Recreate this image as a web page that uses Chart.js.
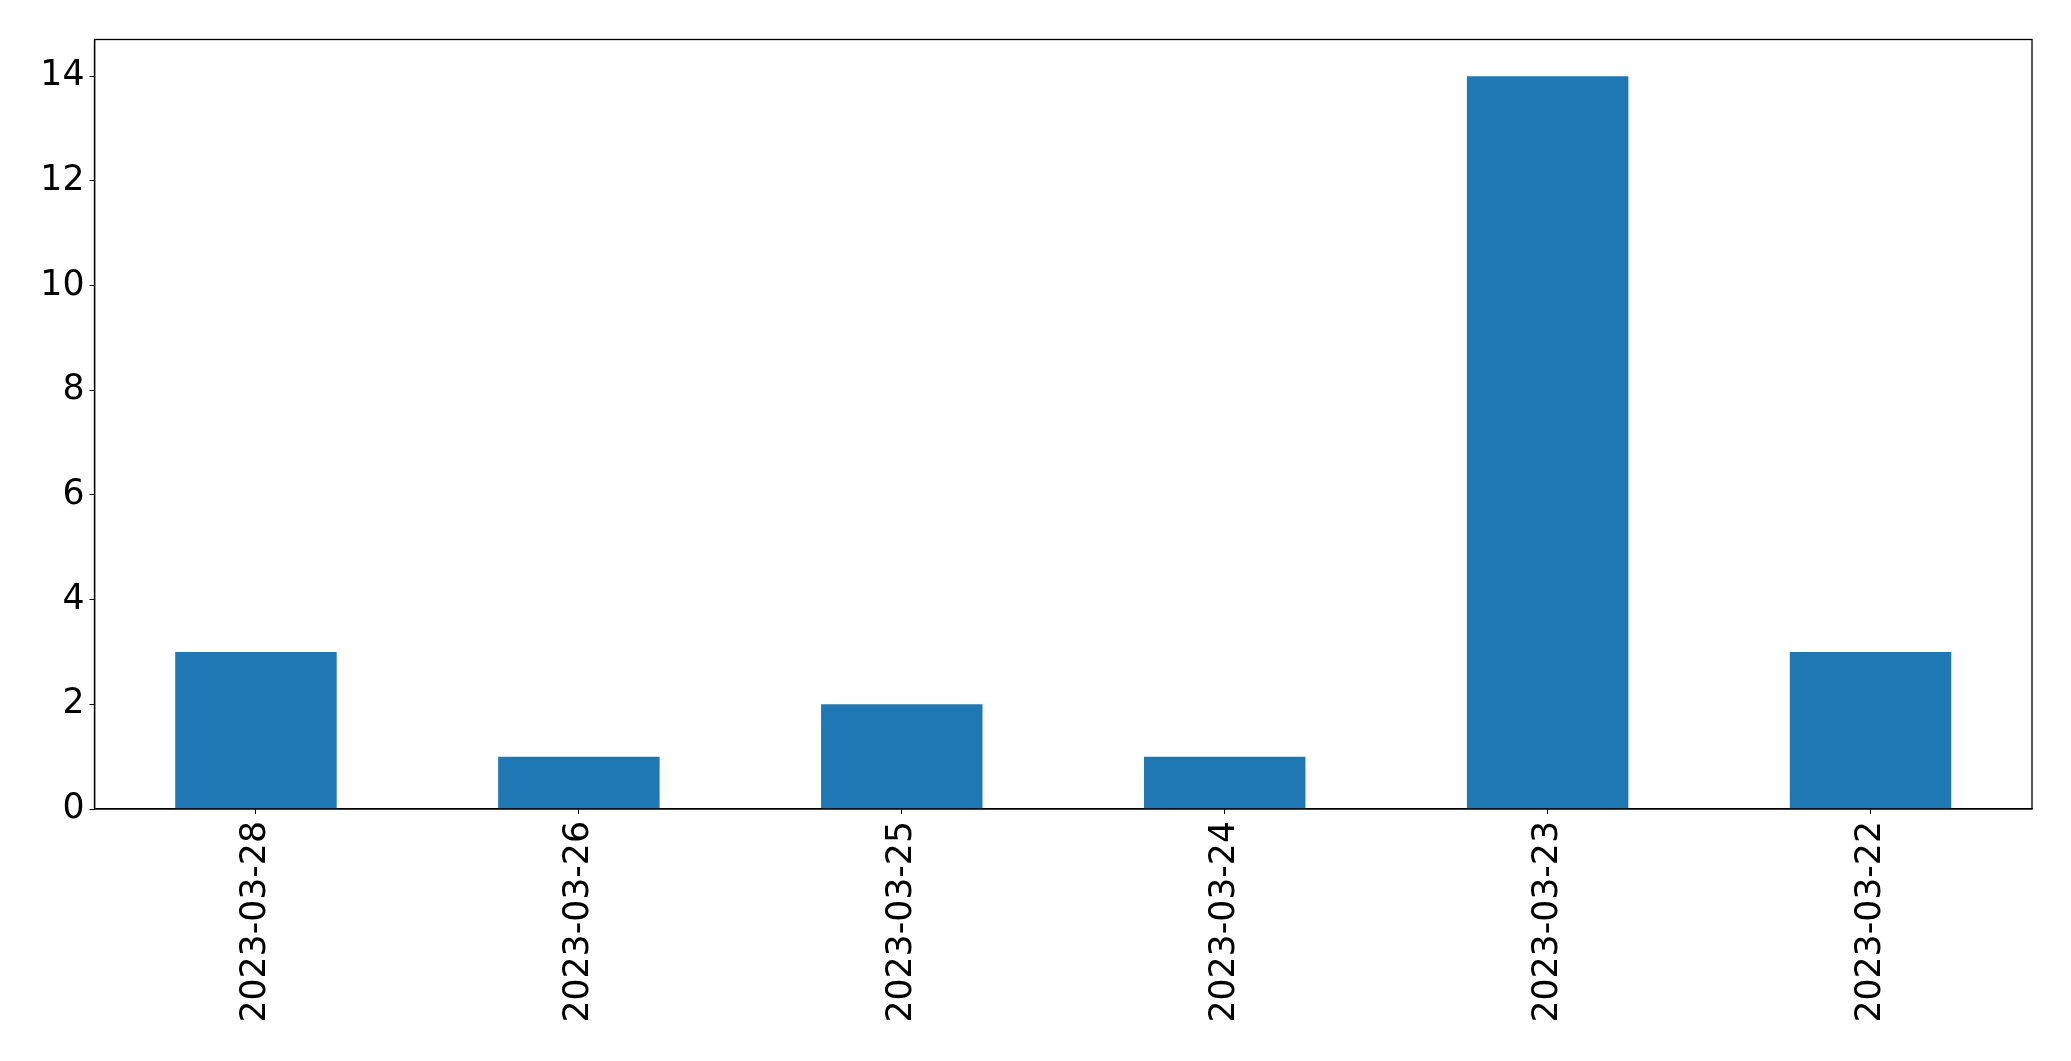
<!DOCTYPE html>
<html>
<head>
<meta charset="utf-8">
<script src="https://cdn.jsdelivr.net/npm/chart.js@4/dist/chart.umd.min.js"></script>
<style>
  html, body { margin: 0; padding: 0; background: #fff; }
  #wrap { width: 2071px; height: 1061px; }
</style>
</head>
<body>
<div id="wrap"><canvas id="myChart" width="2071" height="1061"></canvas></div>
<script>
// Data
var dates = ['2023-03-28', '2023-03-26', '2023-03-25', '2023-03-24', '2023-03-23', '2023-03-22'];
var counts = [3, 1, 2, 1, 14, 3];
var yMax = 14.7;

// Draws the box around the plot area, like matplotlib's spines
var frame = {
    id: 'frame',
    afterDraw: function(chart) {
        var a = chart.chartArea;
        var c = chart.ctx;
        c.save();
        c.strokeStyle = '#000';
        c.lineWidth = 1.3;
        c.strokeRect(a.left, a.top, a.right - a.left, a.bottom - a.top);
        c.restore();
    }
};

var ctx = document.getElementById('myChart').getContext('2d');
var myChart = new Chart(ctx, {
    type: 'bar',
    data: {
        labels: dates,
        datasets: [{
            data: counts,
            backgroundColor: '#1f77b4',
            borderWidth: 0,
            categoryPercentage: 1.0,
            barPercentage: 0.5
        }]
    },
    options: {
        responsive: false,
        animation: false,
        layout: { padding: { top: 39.5, right: 39, left: 0, bottom: 0 } },
        plugins: { legend: { display: false }, tooltip: { enabled: false } },
        scales: {
            x: {
                offset: true,
                grid: { display: true, drawOnChartArea: false, drawTicks: true, tickLength: 5, color: '#000', offset: false },
                border: { display: true, color: '#000', width: 1.3 },
                ticks: {
                    color: '#000',
                    font: { family: 'DejaVu Sans', size: 34.7 },
                    minRotation: 90,
                    maxRotation: 90,
                    padding: 7,
                    autoSkip: false
                },
                afterFit: function(scale) { scale.height = 252; }
            },
            y: {
                min: 0,
                max: yMax,
                grid: { display: true, drawOnChartArea: false, drawTicks: true, tickLength: 5, color: '#000' },
                border: { display: true, color: '#000', width: 1.3 },
                ticks: {
                    stepSize: 2,
                    includeBounds: false,
                    color: '#000',
                    font: { family: 'DejaVu Sans', size: 34.7 },
                    padding: 5
                },
                afterFit: function(scale) { scale.width = 94.5; }
            }
        }
    },
    plugins: [frame]
});
</script>
</body>
</html>
